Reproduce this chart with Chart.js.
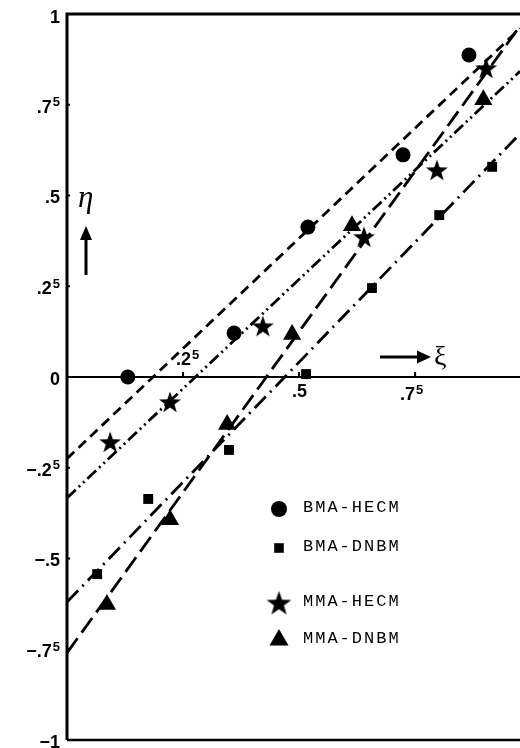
<!DOCTYPE html>
<html>
<head>
<meta charset="utf-8">
<title>η versus ξ</title>
<script src="https://cdn.jsdelivr.net/npm/chart.js@4.4.1/dist/chart.umd.min.js"></script>
<style>
  html, body { margin: 0; padding: 0; background: #fff; }
  #wrap { width: 520px; height: 748px; }
</style>
</head>
<body>
<div id="wrap"><canvas id="chart" width="520" height="748"></canvas></div>
<script>
// values
const seriesNames = ['BMA-HECM', 'BMA-DNBM', 'MMA-HECM', 'MMA-DNBM'];

const bmaHecmXi  = [0.131, 0.360, 0.519, 0.724, 0.866];
const bmaHecmEta = [0.000, 0.121, 0.413, 0.612, 0.887];

const bmaDnbmXi  = [0.065, 0.175, 0.349, 0.515, 0.657, 0.802, 0.916];
const bmaDnbmEta = [-0.543, -0.336, -0.201, 0.008, 0.245, 0.446, 0.579];

const mmaHecmXi  = [0.093, 0.222, 0.422, 0.640, 0.797, 0.903];
const mmaHecmEta = [-0.179, -0.069, 0.140, 0.386, 0.570, 0.851];

const mmaDnbmXi  = [0.086, 0.222, 0.345, 0.485, 0.614, 0.897];
const mmaDnbmEta = [-0.627, -0.393, -0.131, 0.117, 0.417, 0.764];

// straight lines: η where each one meets ξ = 0 and the right edge
const fitXi      = [0, 0.976];
const bmaHecmFit = [-0.225, 0.960];
const bmaDnbmFit = [-0.620, 0.670];
const mmaHecmFit = [-0.333, 0.842];
const mmaDnbmFit = [-0.760, 0.967];

const xTickValues = [0.25, 0.5, 0.75];
const xTickMain   = ['.2', '.5', '.7'];
const xTickSup    = ['5', '', '5'];

const yTickValues = [1, 0.75, 0.5, 0.25, 0, -0.25, -0.5, -0.75, -1];
const yTickMain   = ['1', '.7', '.5', '.2', '0', '\u2212.2', '\u2212.5', '\u2212.7', '\u22121'];
const yTickSup    = ['', '5', '', '5', '', '5', '', '5', ''];

function pairs(xs, ys) {
    return xs.map((x, i) => ({ x: x, y: ys[i] }));
}

function makeStar(size) {
    const c = document.createElement('canvas');
    c.width = size;
    c.height = size;
    const g = c.getContext('2d');
    const R = size / 2 - 0.5, r = R * 0.4, cx = size / 2, cy = size / 2 + 1;
    g.beginPath();
    for (let i = 0; i < 10; i++) {
        const a = -Math.PI / 2 + i * Math.PI / 5;
        const rad = i % 2 === 0 ? R : r;
        g.lineTo(cx + rad * Math.cos(a), cy + rad * Math.sin(a));
    }
    g.closePath();
    g.fillStyle = '#000';
    g.fill();
    return c;
}

const starPoint = makeStar(24);
const starLegend = makeStar(27);

const markerStyles = [
    { pointStyle: 'circle', radius: 7.5 },
    { pointStyle: 'rect', radius: 7 },
    { pointStyle: starPoint, radius: 12 },
    { pointStyle: 'triangle', radius: 10.5 }
];
const legendStyles = [
    { pointStyle: 'circle', radius: 8 },
    { pointStyle: 'rect', radius: 6.8 },
    { pointStyle: starLegend, radius: 13 },
    { pointStyle: 'triangle', radius: 11 }
];
const dashes = [[10, 6], [16, 6, 2, 6], [12, 4, 2, 4, 2, 4], [18, 7]];

const pointSets = [
    pairs(bmaHecmXi, bmaHecmEta),
    pairs(bmaDnbmXi, bmaDnbmEta),
    pairs(mmaHecmXi, mmaHecmEta),
    pairs(mmaDnbmXi, mmaDnbmEta)
];
const lineSets = [
    pairs(fitXi, bmaHecmFit),
    pairs(fitXi, bmaDnbmFit),
    pairs(fitXi, mmaHecmFit),
    pairs(fitXi, mmaDnbmFit)
];

const datasets = [];
pointSets.forEach((pts, i) => {
    datasets.push({
        label: seriesNames[i],
        data: pts,
        showLine: false,
        pointStyle: markerStyles[i].pointStyle,
        pointRadius: markerStyles[i].radius,
        pointBackgroundColor: '#000',
        pointBorderColor: '#000',
        pointBorderWidth: 0,
        order: 0
    });
});
lineSets.forEach((pts, i) => {
    datasets.push({
        label: seriesNames[i] + ' fit',
        data: pts,
        showLine: true,
        borderColor: '#000',
        borderWidth: 2.8,
        borderDash: dashes[i],
        pointRadius: 0,
        fill: false,
        order: 1
    });
});

function supText(ctx, main, sup, x, y, align) {
    const mainFont = 'bold 18px "Liberation Sans", Arial, sans-serif';
    const supFont = 'bold 13px "Liberation Sans", Arial, sans-serif';
    ctx.font = mainFont;
    const wMain = ctx.measureText(main).width;
    ctx.font = supFont;
    const wSup = sup ? ctx.measureText(sup).width + 1 : 0;
    const left = align === 'right' ? x - wMain - wSup : x;
    ctx.textAlign = 'left';
    ctx.textBaseline = 'middle';
    ctx.font = mainFont;
    ctx.fillText(main, left, y);
    if (sup) {
        ctx.font = supFont;
        ctx.fillText(sup, left + wMain + 1, y - 5);
    }
}

const axesPlugin = {
    id: 'axesPlugin',
    beforeDatasetsDraw(chart) {
        const { ctx, chartArea: a, scales } = chart;
        const xs = scales.x, ys = scales.y;
        const y0 = ys.getPixelForValue(0);
        ctx.save();
        ctx.strokeStyle = '#000';
        ctx.fillStyle = '#000';
        ctx.lineCap = 'butt';

        // frame: left, top, bottom (no right side)
        ctx.lineWidth = 3;
        ctx.beginPath();
        ctx.moveTo(a.right, a.top);
        ctx.lineTo(a.left, a.top);
        ctx.lineTo(a.left, a.bottom);
        ctx.stroke();
        ctx.lineWidth = 2.5;
        ctx.beginPath();
        ctx.moveTo(a.left, a.bottom);
        ctx.lineTo(a.right, a.bottom);
        ctx.stroke();

        // ξ axis through η = 0
        ctx.lineWidth = 2;
        ctx.beginPath();
        ctx.moveTo(a.left, y0);
        ctx.lineTo(a.right, y0);
        ctx.stroke();

        // small ticks
        ctx.lineWidth = 2;
        xTickValues.forEach(v => {
            const px = xs.getPixelForValue(v);
            ctx.beginPath();
            ctx.moveTo(px, y0);
            ctx.lineTo(px, y0 - 5);
            ctx.stroke();
        });
        yTickValues.forEach(v => {
            const py = ys.getPixelForValue(v);
            ctx.beginPath();
            ctx.moveTo(a.left, py);
            ctx.lineTo(a.left + 3, py);
            ctx.stroke();
        });

        // η tick labels
        yTickValues.forEach((v, i) => {
            const py = ys.getPixelForValue(v);
            const dy = v === 1 ? 4 : 3;
            supText(ctx, yTickMain[i], yTickSup[i], a.left - 7, py + dy, 'right');
        });

        // ξ tick labels (.25 sits above the axis, the others below)
        const xOff = [[-7, -17], [-7, 15], [-15, 18]];
        xTickValues.forEach((v, i) => {
            const px = xs.getPixelForValue(v);
            supText(ctx, xTickMain[i], xTickSup[i], px + xOff[i][0], y0 + xOff[i][1], 'left');
        });

        // η with up arrow
        ctx.font = 'italic 31px "Liberation Serif", "DejaVu Serif", serif';
        ctx.textAlign = 'left';
        ctx.textBaseline = 'alphabetic';
        ctx.fillText('\u03B7', a.left + 11, 207);
        ctx.lineWidth = 3;
        ctx.beginPath();
        ctx.moveTo(a.left + 19, 275);
        ctx.lineTo(a.left + 19, 236);
        ctx.stroke();
        ctx.beginPath();
        ctx.moveTo(a.left + 19, 226);
        ctx.lineTo(a.left + 25, 240);
        ctx.lineTo(a.left + 13, 240);
        ctx.closePath();
        ctx.fill();

        // arrow with ξ
        ctx.beginPath();
        ctx.moveTo(380, y0 - 20);
        ctx.lineTo(420, y0 - 20);
        ctx.stroke();
        ctx.beginPath();
        ctx.moveTo(431, y0 - 20);
        ctx.lineTo(417, y0 - 26.5);
        ctx.lineTo(417, y0 - 13.5);
        ctx.closePath();
        ctx.fill();
        ctx.font = '28px "Liberation Serif", "DejaVu Serif", serif';
        ctx.fillText('\u03BE', 434, y0 - 12);

        ctx.restore();
    },
    afterDatasetsDraw(chart) {
        const { ctx } = chart;
        const rows = [509, 548, 603, 640];
        const markX = 279, textX = 303;
        ctx.save();
        ctx.fillStyle = '#000';
        ctx.strokeStyle = '#000';
        seriesNames.forEach((name, i) => {
            const st = legendStyles[i];
            Chart.helpers.drawPoint(ctx, {
                pointStyle: st.pointStyle,
                radius: st.radius,
                rotation: 0,
                borderWidth: 0
            }, markX, rows[i]);
            ctx.font = '17px "Liberation Mono", "Courier New", monospace';
            ctx.letterSpacing = '2px';
            ctx.textAlign = 'left';
            ctx.textBaseline = 'middle';
            ctx.fillText(name, textX, rows[i] - 2);
        });
        ctx.restore();
    }
};

new Chart(document.getElementById('chart'), {
    type: 'scatter',
    data: { datasets: datasets },
    options: {
        responsive: false,
        animation: false,
        devicePixelRatio: 1,
        layout: { autoPadding: false, padding: { left: 67, right: 0, top: 14, bottom: 8 } },
        plugins: { legend: { display: false }, tooltip: { enabled: false } },
        scales: {
            x: { type: 'linear', display: false, min: 0, max: 0.976 },
            y: { type: 'linear', display: false, min: -1, max: 1 }
        }
    },
    plugins: [axesPlugin]
});
</script>
</body>
</html>
